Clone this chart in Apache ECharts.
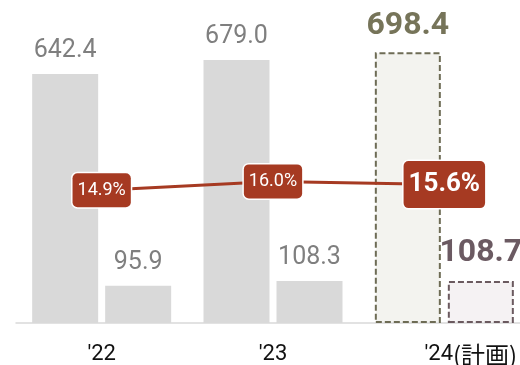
<!DOCTYPE html>
<html><head><meta charset="utf-8">
<script src="https://cdn.jsdelivr.net/npm/echarts@6.0.0/dist/echarts.min.js"></script>
<style>html,body{margin:0;padding:0;background:#fff}#c{width:520px;height:365px}</style>
</head><body><div id="c"></div>
<script>
const categories = ["'22", "'23", "'24(計画)"];
const revenue = [642.4, 679.0, 698.4];
const profit = [95.9, 108.3, 108.7];
const margin = [14.9, 16.0, 15.6];
const planIndex = 2;

const FONT = 'Roboto';
const chart = echarts.init(document.getElementById('c'), null, {renderer: 'canvas'});

const grayLabel = {show: true, position: 'top', distance: 11, fontFamily: FONT, fontSize: 25, color: '#7f7f7f'};
const planRich = {
  a: {fontFamily: FONT, fontSize: 22, color: '#111'},
  b: {fontFamily: 'Noto Sans CJK JP', fontSize: 24, color: '#111'}
};

const option = {
  animation: false,
  grid: {left: 16, width: 514, top: 13, bottom: 42, containLabel: false, outerBoundsMode: 'none'},
  xAxis: {
    type: 'category',
    data: categories.map((c, i) => i === planIndex ? {value: c, textStyle: {padding: [0, 0, 0, 53], rich: planRich}} : c),
    axisTick: {show: false},
    axisLine: {lineStyle: {color: '#d9d9d9', width: 1.5}},
    axisLabel: {
      interval: 0, hideOverlap: false,
      margin: 20, fontFamily: FONT, fontSize: 22, color: '#111',
      formatter: v => v.indexOf('(') >= 0 ? '{a|' + v.split('(')[0] + '}{b|(' + v.split('(')[1] + '}' : v,
      rich: planRich
    }
  },
  yAxis: [
    {type: 'value', min: 0, max: 800, show: false, splitLine: {show: false}},
    {type: 'value', min: -1.7, max: 37.05, show: false, splitLine: {show: false}}
  ],
  series: [
    {
      type: 'bar', barWidth: 66, barGap: '10.6%', barCategoryGap: '18.7%',
      itemStyle: {color: '#d9d9d9'},
      label: Object.assign({}, grayLabel, {formatter: p => p.value.toFixed(1)}),
      emphasis: {disabled: true},
      data: revenue.map((v, i) => i === planIndex ? {
        value: v,
        itemStyle: {color: '#f3f3ef', borderColor: '#6e6c55', borderWidth: 2, borderType: [6, 3]},
        label: {fontSize: 32, fontWeight: 'bold', color: '#767459', distance: 10}
      } : v)
    },
    {
      type: 'bar', barWidth: 66,
      itemStyle: {color: '#d9d9d9'},
      label: Object.assign({}, grayLabel, {formatter: p => p.value.toFixed(1)}),
      emphasis: {disabled: true},
      data: profit.map((v, i) => i === planIndex ? {
        value: v,
        itemStyle: {color: '#f5f2f3', borderColor: '#6b5a5f', borderWidth: 2, borderType: [6, 3]},
        label: {fontSize: 32, fontWeight: 'bold', color: '#6b5a62', distance: 12}
      } : v)
    },
    {
      type: 'line', yAxisIndex: 1, z: 5,
      symbol: 'circle', symbolSize: 2,
      lineStyle: {color: '#a63a22', width: 3},
      itemStyle: {color: '#a63a22'},
      emphasis: {disabled: true},
      label: {
        show: true, position: 'inside',
        formatter: p => p.value.toFixed(1) + '%',
        fontFamily: FONT, fontSize: 18, lineHeight: 20, color: '#fff',
        backgroundColor: '#a63a22', borderColor: '#fff', borderWidth: 1.5, borderRadius: 5,
        padding: [7, 5]
      },
      data: margin.map((v, i) => i === planIndex ? {
        value: v,
        label: {fontSize: 26, fontWeight: 'bold', padding: [9, 5], lineHeight: 29}
      } : v)
    }
  ]
};
chart.setOption(option);
</script>
</body></html>
